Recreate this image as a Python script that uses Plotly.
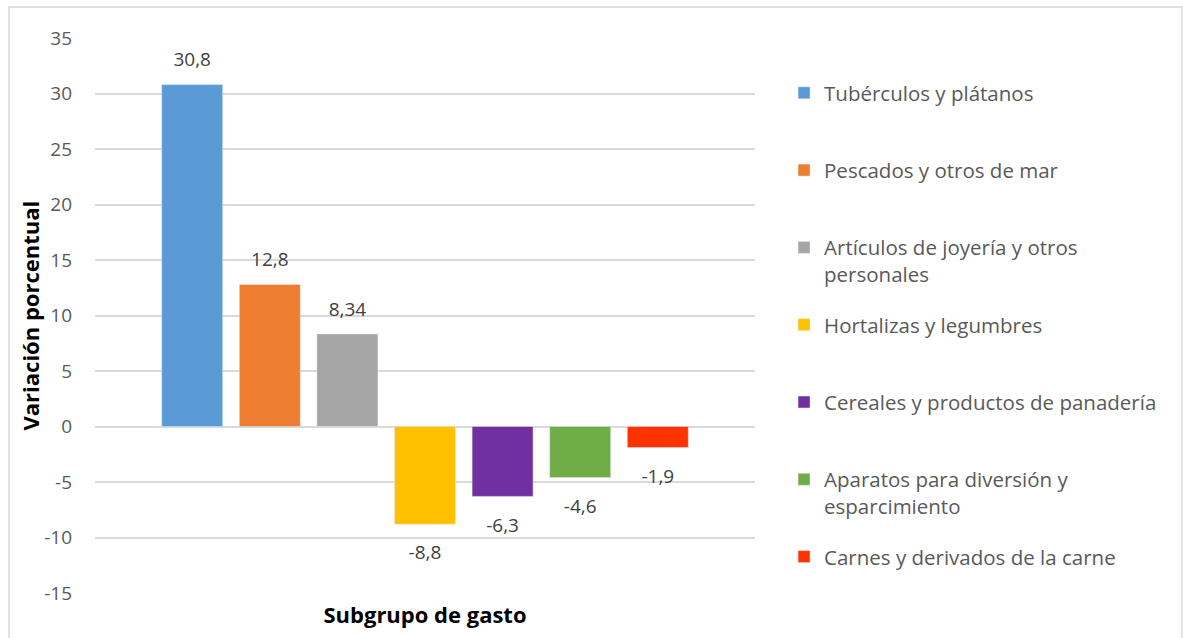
import plotly.graph_objects as go

categories = ["Tubérculos y plátanos", "Pescados y otros de mar",
              "Artículos de joyería y otros<br>personales", "Hortalizas y legumbres",
              "Cereales y productos de panadería", "Aparatos para diversión y<br>esparcimiento",
              "Carnes y derivados de la carne"]
values = [30.8, 12.8, 8.34, -8.8, -6.3, -4.6, -1.9]
colors = ["#5b9bd5", "#ed7d31", "#a5a5a5", "#ffc000", "#7030a0", "#70ad47", "#ff3300"]
y_ticks = [-15, -10, -5, 0, 5, 10, 15, 20, 25, 30, 35]
x_label = "Subgrupo de gasto"
y_label = "Variación porcentual"

FONT = "Open Sans"
fig = go.Figure()
for i, (name, v, c) in enumerate(zip(categories, values, colors)):
    legend_name = name if "<br>" in name else name + "<br> "
    fig.add_trace(go.Bar(
        x=[x_label], y=[v], name=legend_name, marker_color=c,
        offsetgroup=str(i), legendgroup=str(i),
    ))
for i, v in enumerate(values):
    label = ("%g" % v).replace(".", ",")
    fig.add_trace(go.Scatter(
        x=[x_label], y=[v], mode="markers+text", text=[label],
        textposition="top center" if v >= 0 else "bottom center",
        textfont=dict(size=19, color="#404040", family=FONT),
        marker=dict(size=20 if v >= 0 else 32, opacity=0), offsetgroup=str(i),
        showlegend=False, hoverinfo="skip", cliponaxis=False,
    ))

fig.update_layout(
    width=1183, height=638,
    margin=dict(l=95, r=428, t=38, b=45),
    paper_bgcolor="white", plot_bgcolor="white",
    barmode="group", bargap=0.177, bargroupgap=0.214,
    scattermode="group", scattergap=0.177,
    font=dict(family=FONT, color="#595959"),
    showlegend=True,
    legend=dict(x=1.044, xanchor="left", y=0.937, yanchor="top", valign="top",
                font=dict(size=20.5, color="#595959", family=FONT),
                tracegroupgap=21, itemwidth=30, bgcolor="rgba(0,0,0,0)"),
    shapes=[dict(type="rect", xref="paper", yref="paper",
                 x0=-0.1303, x1=1.647, y0=-0.2, y1=1.0559,
                 line=dict(color="#d9d9d9", width=1.5), fillcolor="rgba(0,0,0,0)")],
    annotations=[dict(text="<b>%s</b>" % y_label, xref="paper", yref="paper",
                      x=-0.0985, y=0.5, xanchor="center", yanchor="middle",
                      textangle=-90, showarrow=False,
                      font=dict(size=22, color="#000000", family=FONT))],
)
fig.update_xaxes(showticklabels=False, showgrid=False, zeroline=False, showline=False,
                 title=dict(text="<b>%s</b>" % x_label, standoff=14,
                            font=dict(size=22, color="#000000", family=FONT)))
fig.update_yaxes(range=[-15, 35], tickvals=y_ticks, ticktext=[str(t) for t in y_ticks],
                 showgrid=True, gridcolor="#d9d9d9",
                 gridwidth=1.5, zeroline=True, zerolinecolor="#d9d9d9", zerolinewidth=1.5,
                 showline=False, ticks="", tickfont=dict(size=19, color="#595959", family=FONT),
                 ticklabelstandoff=22)

fig.write_html("out.html", config={"displayModeBar": False},
               post_script="document.body.style.margin='0';")
